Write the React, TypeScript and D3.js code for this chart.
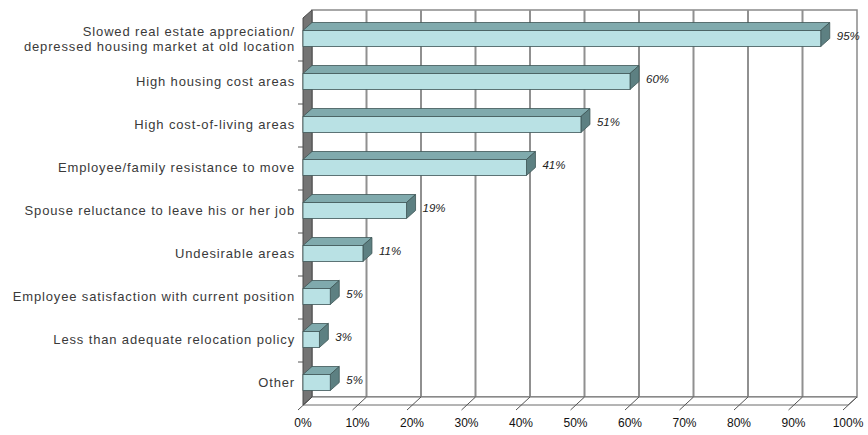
import React from "react";
import * as d3 from "d3";

const categories = [
  "Slowed real estate appreciation/\ndepressed housing market at old location",
  "High housing cost areas",
  "High cost-of-living areas",
  "Employee/family resistance to move",
  "Spouse reluctance to leave his or her job",
  "Undesirable areas",
  "Employee satisfaction with current position",
  "Less than adequate relocation policy",
  "Other",
];
const values = [95, 60, 51, 41, 19, 11, 5, 3, 5];
const ticks = [0, 10, 20, 30, 40, 50, 60, 70, 80, 90, 100];

const W = 868;
const H = 435;
const DX = 9;
const DY = 8;

export default function App() {
  const x = d3.scaleLinear().domain([0, 100]).range([303, 848]);
  const y = d3.scaleBand<string>().domain(categories).range([18, 405]);
  const top = 18;
  const bottom = 405;
  const x0 = x(0);
  const x100 = x(100);
  const font = "'Liberation Sans', Arial, sans-serif";
  const pts = (p: [number, number][]) => p.map((q) => q.join(",")).join(" ");

  return (
    <svg
      width={W}
      height={H}
      style={{ position: "absolute", left: 0, top: 0, background: "#fff" }}
    >
      {/* back wall */}
      <rect x={x0 + DX} y={top - DY} width={x100 - x0} height={bottom - top} fill="#fff" stroke="#8a8a8a" strokeWidth={1.5} />
      {/* gridlines */}
      {ticks.slice(1, -1).map((t) => (
        <line key={t} x1={x(t) + DX} x2={x(t) + DX} y1={top - DY} y2={bottom - DY} stroke="#909090" strokeWidth={2} />
      ))}
      {/* floor */}
      <polygon
        points={pts([[x0, bottom], [x0 + DX, bottom - DY], [x100 + DX, bottom - DY], [x100, bottom]])}
        fill="#fff"
        stroke="#6a6a6a"
        strokeWidth={1}
      />
      {ticks.map((t) => (
        <line key={"f" + t} x1={x(t) + DX} y1={bottom - DY} x2={x(t) - 5} y2={bottom + 5} stroke="#555" strokeWidth={1} />
      ))}
      {/* left wall */}
      <polygon
        points={pts([[x0, top], [x0 + DX, top - DY], [x0 + DX, bottom - DY], [x0, bottom]])}
        fill="#747474"
        stroke="#4a4a4a"
        strokeWidth={1}
      />
      {/* category ticks */}
      {categories.map((c, i) =>
        i === 0 ? null : (
          <line key={"ct" + i} x1={x0 - 5} x2={x0} y1={y(c)!} y2={y(c)!} stroke="#555" strokeWidth={1} />
        )
      )}
      {/* bars */}
      {categories.map((c, i) => {
        const cy = y(c)! + y.bandwidth() / 2 - 1;
        const h = 8;
        const xs = x(0);
        const xe = x(values[i]);
        return (
          <g key={"b" + i}>
            <polygon
              points={pts([[xs, cy - h], [xs + DX, cy - h - DY], [xe + DX, cy - h - DY], [xe, cy - h]])}
              fill="#80aaad"
              stroke="#3d5556"
              strokeWidth={0.8}
            />
            <polygon
              points={pts([[xe, cy - h], [xe + DX, cy - h - DY], [xe + DX, cy + h - DY], [xe, cy + h]])}
              fill="#5d8082"
              stroke="#3d5556"
              strokeWidth={0.8}
            />
            <rect x={xs} y={cy - h} width={xe - xs} height={2 * h} fill="#b9e1e4" stroke="#3d5556" strokeWidth={0.8} />
            <text
              x={xe + DX + 7}
              y={cy - 3}
              dy="0.35em"
              fontFamily={font}
              fontSize={11.5}
              fontStyle="italic"
              fill="#222"
            >
              {values[i]}%
            </text>
          </g>
        );
      })}
      {/* category labels */}
      {categories.map((c, i) => {
        const lines = c.split("\n");
        const cy = y(c)! + y.bandwidth() / 2 - 1;
        return (
          <text key={"l" + i} x={295} textAnchor="end" fontFamily={font} fontSize={13} letterSpacing={0.85} fill="#3a3a3a">
            {lines.map((ln, j) => (
              <tspan key={j} x={295} y={cy + (j - (lines.length - 1) / 2) * 15} dy="0.35em">
                {ln}
              </tspan>
            ))}
          </text>
        );
      })}
      {/* x tick labels */}
      {ticks.map((t) => (
        <text key={"t" + t} x={x(t)} y={423} dy="0.35em" textAnchor="middle" fontFamily={font} fontSize={12} fill="#111">
          {t}%
        </text>
      ))}
    </svg>
  );
}
